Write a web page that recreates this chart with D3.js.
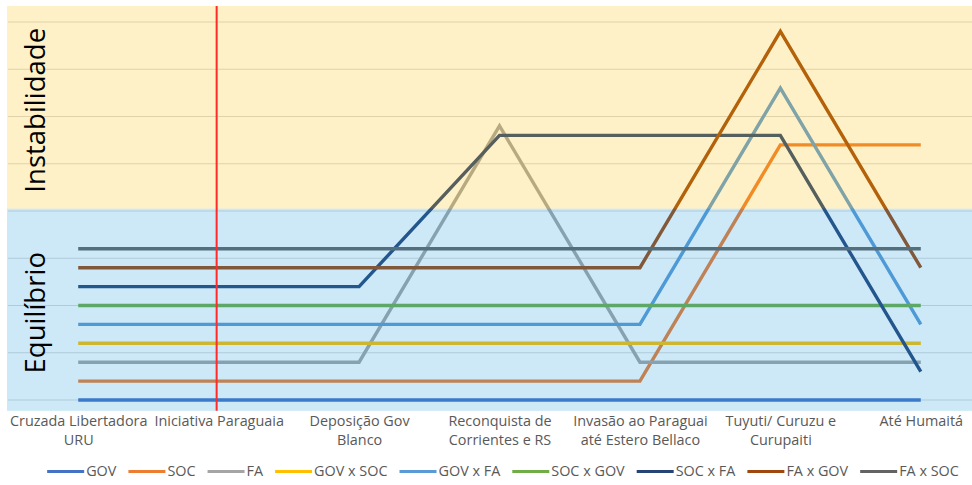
<!DOCTYPE html>
<html>
<head>
<meta charset="utf-8">
<script src="https://cdn.jsdelivr.net/npm/d3@7"></script>
<style>
  body { margin: 0; background: #fff; }
  text { font-family: "Open Sans", Lato, sans-serif; }
</style>
</head>
<body>
<script>
// categorias (eixo x), quebradas em linhas como no original
const categorias = [
  ["Cruzada Libertadora", "URU"],
  ["Iniciativa Paraguaia"],
  ["Deposição Gov", "Blanco"],
  ["Reconquista de", "Corrientes e RS"],
  ["Invasão ao Paraguai", "até Estero Bellaco"],
  ["Tuyuti/ Curuzu e", "Curupaiti"],
  ["Até Humaitá"]
];
const nomesSeries = ["GOV", "SOC", "FA", "GOV x SOC", "GOV x FA", "SOC x GOV", "SOC x FA", "FA x GOV", "FA x SOC"];
const GOV = [0, 0, 0, 0, 0, 0, 0];
const SOC = [0.4, 0.4, 0.4, 0.4, 0.4, 5.4, 5.4];
const FA = [0.8, 0.8, 0.8, 5.8, 0.8, 0.8, 0.8];
const GOVxSOC = [1.2, 1.2, 1.2, 1.2, 1.2, 1.2, 1.2];
const GOVxFA = [1.6, 1.6, 1.6, 1.6, 1.6, 6.6, 1.6];
const SOCxGOV = [2, 2, 2, 2, 2, 2, 2];
const SOCxFA = [2.4, 2.4, 2.4, 5.6, 5.6, 5.6, 0.6];
const FAxGOV = [2.8, 2.8, 2.8, 2.8, 2.8, 7.8, 2.8];
const FAxSOC = [3.2, 3.2, 3.2, 3.2, 3.2, 3.2, 3.2];
const valores = [GOV, SOC, FA, GOVxSOC, GOVxFA, SOCxGOV, SOCxFA, FAxGOV, FAxSOC];
const cores = ["#4472C4", "#ED7D31", "#A5A5A5", "#FFC000", "#5B9BD5", "#70AD47", "#264478", "#9E480E", "#636363"];
// faixas de fundo (em unidades do eixo y)
const faixas = [
  { nome: "Equilíbrio", de: -0.23, ate: 4.05, cor: "#1B96DA" },
  { nome: "Instabilidade", de: 4.05, ate: 8.34, cor: "#FFC000" }
];
const gradeY = [0, 1, 2, 3, 4, 5, 6, 7, 8];
const marco = 1; // índice da linha vermelha ("Iniciativa Paraguaia")

const WIDTH = 972;
const HEIGHT = 485;

const svg = d3.select("body").append("svg")
  .attr("width", WIDTH)
  .attr("height", HEIGHT);

const x = d3.scalePoint()
  .domain(d3.range(categorias.length))
  .range([8, 991])
  .padding(0.5);
const y = d3.scaleLinear().domain([0, 8]).range([400, 22]);

// grade
svg.append("g").selectAll("line")
  .data(gradeY)
  .enter().append("line")
  .attr("x1", 8).attr("x2", WIDTH)
  .attr("y1", d => y(d)).attr("y2", d => y(d))
  .attr("stroke", "#d9d9d9")
  .attr("stroke-width", 1);

// linhas das séries
const linha = d3.line()
  .x((d, i) => x(i))
  .y(d => y(d));

svg.append("g").selectAll("path")
  .data(valores)
  .enter().append("path")
  .attr("d", d => linha(d))
  .attr("fill", "none")
  .attr("stroke", (d, i) => cores[i])
  .attr("stroke-width", 3.4)
  .attr("stroke-linejoin", "miter");

// faixas semitransparentes por cima
svg.append("g").selectAll("rect")
  .data(faixas)
  .enter().append("rect")
  .attr("x", 7)
  .attr("width", WIDTH - 7)
  .attr("y", d => y(d.ate))
  .attr("height", d => y(d.de) - y(d.ate))
  .attr("fill", d => d.cor)
  .attr("fill-opacity", 0.22);

// linha vermelha
svg.append("line")
  .attr("x1", x(marco) - 2).attr("x2", x(marco) - 2)
  .attr("y1", y(8.34)).attr("y2", y(-0.23))
  .attr("stroke", "#ff2a2a")
  .attr("stroke-width", 2);

// títulos das faixas
svg.append("g").selectAll("text")
  .data(faixas)
  .enter().append("text")
  .attr("transform", d => `translate(45,${(y(d.de) + y(d.ate)) / 2 + 3}) rotate(-90)`)
  .attr("text-anchor", "middle")
  .attr("font-size", 27.5)
  .attr("fill", "#000")
  .text(d => d.nome);

// eixo x
const eixoX = svg.append("g")
  .attr("transform", "translate(0,410)")
  .call(d3.axisBottom(x).tickSize(0).tickFormat(""));
eixoX.select(".domain").remove();
eixoX.selectAll(".tick").each(function (d) {
  const t = d3.select(this).append("text")
    .attr("text-anchor", "middle")
    .attr("fill", "#595959")
    .attr("font-size", 14.4);
  categorias[d].forEach((s, k) => {
    t.append("tspan").attr("x", 0).attr("y", 16 + k * 19).text(s);
  });
});

// legenda
const leg = svg.append("g").attr("transform", "translate(0,476)");
let cx = 0;
const itens = [];
nomesSeries.forEach((n, i) => {
  const g = leg.append("g");
  g.append("line")
    .attr("x1", 0).attr("x2", 37)
    .attr("y1", -4.5).attr("y2", -4.5)
    .attr("stroke", cores[i])
    .attr("stroke-width", 3);
  const t = g.append("text")
    .attr("x", 39)
    .attr("fill", "#595959")
    .attr("font-size", 14.4)
    .text(n);
  const w = 39 + t.node().getComputedTextLength();
  itens.push({ g, pos: cx });
  cx += w + 12;
});
const total = cx - 12;
const inicio = 503 - total / 2;
itens.forEach(it => it.g.attr("transform", `translate(${inicio + it.pos},0)`));
</script>
</body>
</html>
